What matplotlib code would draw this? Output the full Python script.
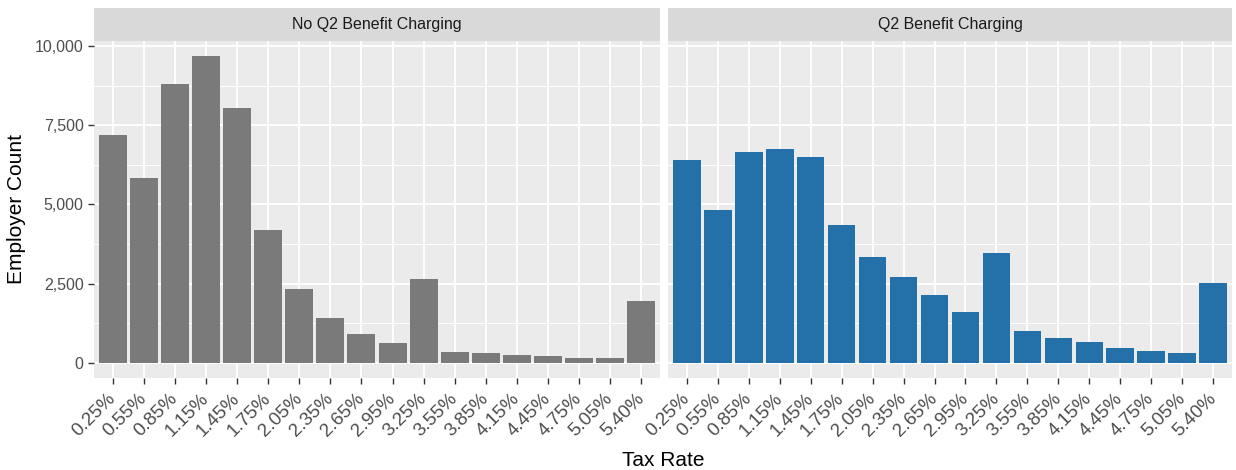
import numpy as np
import matplotlib.pyplot as plt
from matplotlib.ticker import FuncFormatter, MultipleLocator

plt.rcParams['font.family'] = ['Liberation Sans', 'DejaVu Sans']

rates = ['0.25%', '0.55%', '0.85%', '1.15%', '1.45%', '1.75%', '2.05%', '2.35%', '2.65%',
         '2.95%', '3.25%', '3.55%', '3.85%', '4.15%', '4.45%', '4.75%', '5.05%', '5.40%']
no_charging = [7180, 5820, 8800, 9680, 8040, 4180, 2340, 1420, 920,
               630, 2630, 340, 305, 245, 210, 150, 150, 1950]
charging = [6410, 4830, 6670, 6760, 6510, 4360, 3345, 2710, 2140,
            1600, 3470, 1000, 780, 655, 465, 370, 305, 2520]
panels = ['No Q2 Benefit Charging', 'Q2 Benefit Charging']
colors = ['#7a7a7a', '#2471a9']

W, H = 1236, 470
fig = plt.figure(figsize=(W / 100, H / 100), dpi=100)

def box(x0, y0, x1, y1):
    return [x0 / W, 1 - y1 / H, (x1 - x0) / W, (y1 - y0) / H]

ymax = max(no_charging + charging)
pad = ymax * 0.05
x = np.arange(len(rates))

spans = [(94, 660), (668, 1232)]
for i, (vals, title, col, (x0, x1)) in enumerate(zip([no_charging, charging], panels, colors, spans)):
    ax = fig.add_axes(box(x0, 41, x1, 378))
    ax.set_facecolor('#EBEBEB')
    ax.bar(x, vals, width=0.9, color=col, zorder=3)
    ax.set_xlim(-0.6, len(rates) - 0.4)
    ax.set_ylim(-pad, ymax + pad)
    ax.yaxis.set_major_locator(MultipleLocator(2500))
    ax.yaxis.set_minor_locator(MultipleLocator(1250))
    ax.grid(which='major', color='white', linewidth=1.4, zorder=1)
    ax.grid(which='minor', axis='y', color='white', linewidth=0.7, zorder=1)
    ax.set_xticks(x)
    ax.set_xticklabels(rates, rotation=45, ha='right', va='center', rotation_mode='anchor',
                       fontsize=13.5, color='#4D4D4D')
    ax.tick_params(axis='both', which='major', length=4, width=1, color='#333333')
    ax.tick_params(axis='x', pad=9)
    ax.tick_params(axis='y', which='minor', length=0)
    for s in ax.spines.values():
        s.set_visible(False)
    if i == 0:
        ax.yaxis.set_major_formatter(FuncFormatter(lambda v, p: f'{int(v):,}'))
        ax.tick_params(axis='y', labelsize=11.5, labelcolor='#4D4D4D')
        ax.set_ylabel('Employer Count', fontsize=15, labelpad=6)
    else:
        ax.tick_params(axis='y', labelleft=False, length=0)
    strip = fig.add_axes(box(x0, 8, x1, 41))
    strip.set_facecolor('#D9D9D9')
    strip.set_xticks([])
    strip.set_yticks([])
    for s in strip.spines.values():
        s.set_visible(False)
    strip.text(0.5, 0.5, title, ha='center', va='center', fontsize=11.5, color='#1A1A1A',
               transform=strip.transAxes)

fig.text(663 / W, 1 - 460 / H, 'Tax Rate', ha='center', va='center', fontsize=15)

fig.savefig('out.png', dpi=100)
